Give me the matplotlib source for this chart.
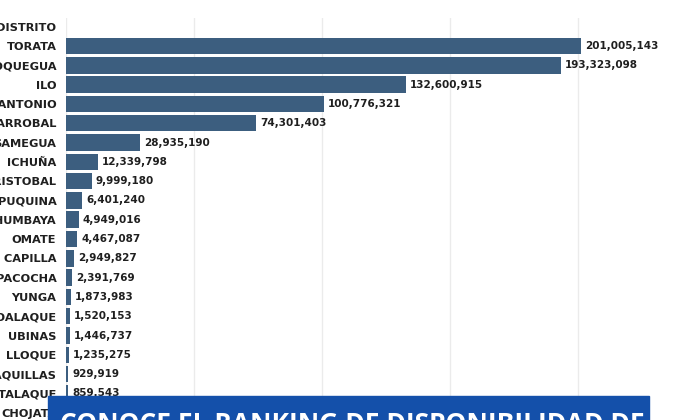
import numpy as np
import matplotlib.pyplot as plt

# distritos y montos (la fila de CHOJATA queda tapada por el banner)
distritos = ['TORATA', 'MOQUEGUA', 'ILO', 'SAN ANTONIO', 'EL ALGARROBAL',
             'SAMEGUA', 'ICHUÑA', 'SAN CRISTOBAL', 'PUQUINA', 'CUCHUMBAYA',
             'OMATE', 'LA CAPILLA', 'PACOCHA', 'YUNGA', 'COALAQUE', 'UBINAS',
             'LLOQUE', 'QUINISTAQUILLAS', 'MATALAQUE', 'CHOJATA']
montos = [201005143, 193323098, 132600915, 100776321, 74301403,
          28935190, 12339798, 9999180, 6401240, 4949016,
          4467087, 2949827, 2391769, 1873983, 1520153, 1446737,
          1235275, 929919, 859543, 780000]
ticks_x = [0, 50e6, 100e6, 150e6, 200e6]

color_barra = '#3c5e7f'
color_texto = '#1f1f1f'

fig = plt.figure(figsize=(6.96, 4.2), dpi=100)
ax = fig.add_axes([66 / 696, 0, 1 - 66 / 696, (420 - 18) / 420])

y = np.arange(len(distritos))
ax.barh(y, montos, height=0.86, color=color_barra, zorder=2)

for yi, m in zip(y, montos):
    ax.text(m + 1.6e6, yi, '{:,}'.format(m), va='center', ha='left',
            fontsize=7.5, fontweight='bold', color=color_texto,
            family='DejaVu Sans', zorder=3)

ax.set_yticks(np.concatenate([[-1], y]))
ax.set_yticklabels(['DISTRITO'] + distritos, fontsize=8.2, fontweight='bold',
                   color=color_texto, family='DejaVu Sans')
ax.tick_params(axis='y', length=0, pad=7)

ax.set_xticks(ticks_x)
ax.set_xticklabels([])
ax.tick_params(axis='x', length=0)
ax.grid(axis='x', color='#ebebeb', lw=1, zorder=0)

ax.set_xlim(0, 246e6)
ax.set_ylim((420 - 46) / 19.3, (18 - 46) / 19.3)
for s in ax.spines.values():
    s.set_visible(False)

# banner azul de abajo
fig.patches.append(plt.Rectangle((48 / 696, 0), (649 - 48) / 696,
                                 (420 - 396) / 420,
                                 transform=fig.transFigure,
                                 color='#1450aa', zorder=5))
fig.text(60 / 696, -12 / 420, 'CONOCE EL RANKING DE DISPONIBILIDAD DE',
         ha='left', va='baseline', fontsize=19, fontweight='bold',
         color='white', family=['Open Sans', 'DejaVu Sans'], zorder=6)

plt.savefig('out.png', dpi=100)
plt.close()
